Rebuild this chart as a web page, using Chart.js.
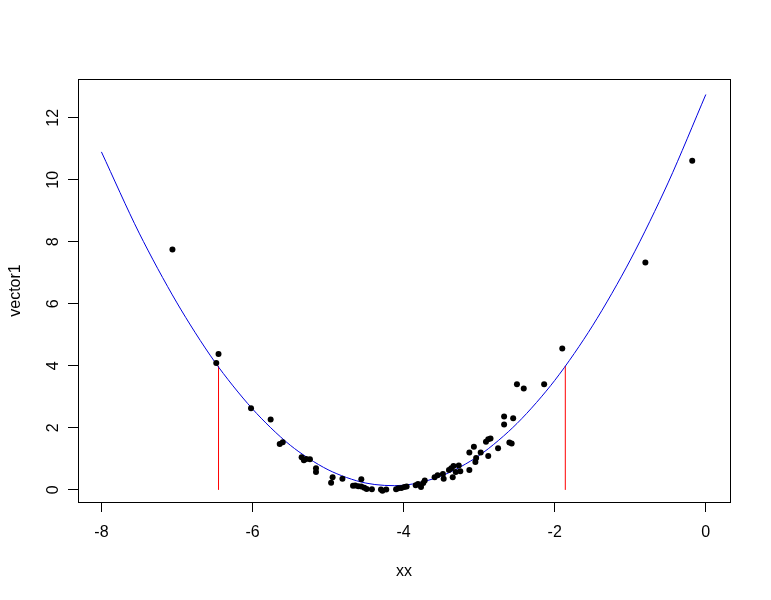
<!DOCTYPE html>
<html>
<head>
<meta charset="utf-8">
<script src="https://cdn.jsdelivr.net/npm/chart.js@4"></script>
<style>
  body { margin: 0; background: #fff; }
</style>
</head>
<body>
<canvas id="chart" width="771" height="600"></canvas>
<script>
// observed points (xx, vector1)
const pointX = [-7.06, -6.45, -6.48, -6.02, -5.76, -5.64, -5.60, -5.35, -5.32, -5.29,
  -5.24, -5.16, -5.16, -4.94, -4.96, -4.81, -4.56, -4.67, -4.64, -4.60,
  -4.56, -4.52, -4.49, -4.42, -4.30, -4.28, -4.23, -4.10, -4.07, -4.03,
  -3.99, -3.96, -3.84, -3.81, -3.77, -3.74, -3.72, -3.59, -3.55, -3.48,
  -3.47, -3.40, -3.37, -3.34, -3.35, -3.31, -3.27, -3.25, -3.13, -3.13,
  -3.07, -3.05, -3.04, -2.98, -2.91, -2.88, -2.85, -2.88, -2.75, -2.67,
  -2.55, -2.67, -2.60, -2.57, -2.50, -2.41, -2.14, -1.90, -0.80, -0.18];
const pointY = [7.75, 4.38, 4.09, 2.63, 2.27, 1.48, 1.54, 1.05, 0.96, 1.00,
  0.99, 0.70, 0.58, 0.41, 0.23, 0.36, 0.34, 0.13, 0.14, 0.12,
  0.11, 0.07, 0.03, 0.02, 0.01, -0.03, 0.01, 0.02, 0.05, 0.06,
  0.09, 0.11, 0.15, 0.19, 0.09, 0.22, 0.30, 0.41, 0.47, 0.51,
  0.36, 0.64, 0.70, 0.77, 0.41, 0.58, 0.79, 0.60, 0.64, 1.21,
  1.39, 0.90, 1.03, 1.21, 1.55, 1.63, 1.66, 1.09, 1.34, 2.37,
  2.31, 2.11, 1.53, 1.50, 3.41, 3.27, 3.41, 4.56, 7.33, 10.61];

// fitted curve
const curveX = [-8, -7.5, -7, -6.5, -6, -5.5, -5, -4.5, -4, -3.5, -3, -2.5, -2, -1.5, -1, -0.5, 0];
const curveY = [10.9, 8.28, 6.03, 4.13, 2.61, 1.44, 0.65, 0.22, 0.15, 0.45, 1.11, 2.14, 3.53, 5.29, 7.41, 9.90, 12.75];

// red vertical markers
const markerX = [-6.45, -1.86];
const markerTop = [4.0, 4.0];

const xTicks = [-8, -6, -4, -2, 0];
const yTicks = [0, 2, 4, 6, 8, 10, 12];

const fontSpec = { family: "'Liberation Sans', Arial, sans-serif", size: 16 };

const datasets = [
  {
    label: 'vector1',
    data: pointX.map((x, i) => ({ x: x, y: pointY[i] })),
    pointRadius: 3,
    pointBackgroundColor: '#000',
    pointBorderWidth: 0,
    showLine: false
  },
  {
    label: 'fit',
    data: curveX.map((x, i) => ({ x: x, y: curveY[i] })),
    showLine: true,
    borderColor: '#0000e0',
    borderWidth: 1,
    pointRadius: 0,
    tension: 0.3
  }
];
markerX.forEach((x, i) => {
  datasets.push({
    label: 'marker' + i,
    data: [{ x: x, y: 0 }, { x: x, y: markerTop[i] }],
    showLine: true,
    borderColor: '#ff0000',
    borderWidth: 1,
    pointRadius: 0
  });
});

// box around the plot region, like R's box()
const boxPlugin = {
  id: 'box',
  afterDraw(chart) {
    const a = chart.chartArea;
    const ctx = chart.ctx;
    ctx.save();
    ctx.strokeStyle = '#000';
    ctx.lineWidth = 1;
    ctx.strokeRect(Math.round(a.left) + 0.5, Math.round(a.top) + 0.5,
      Math.round(a.right - a.left), Math.round(a.bottom - a.top));
    ctx.restore();
  }
};

const ctx = document.getElementById('chart').getContext('2d');
new Chart(ctx, {
  type: 'scatter',
  data: { datasets: datasets },
  options: {
    responsive: false,
    animation: false,
    layout: { padding: { top: 79, right: 41, left: 0, bottom: 0 } },
    plugins: { legend: { display: false }, tooltip: { enabled: false } },
    scales: {
      x: {
        type: 'linear',
        min: -8.31,
        max: 0.32,
        afterBuildTicks: (s) => { s.ticks = xTicks.map(v => ({ value: v })); },
        afterFit: (s) => { s.height = 98; },
        grid: { drawOnChartArea: false, drawTicks: true, tickLength: 10, color: '#000' },
        border: { display: true, color: '#000' },
        ticks: { color: '#000', font: fontSpec, padding: 11, maxRotation: 0 },
        title: { display: true, text: 'xx', color: '#000', font: fontSpec, padding: { top: 0, bottom: 19 } }
      },
      y: {
        type: 'linear',
        min: -0.39,
        max: 13.25,
        afterBuildTicks: (s) => { s.ticks = yTicks.map(v => ({ value: v })); },
        afterFit: (s) => { s.width = 78; },
        grid: { drawOnChartArea: false, drawTicks: true, tickLength: 10, color: '#000' },
        border: { display: true, color: '#000' },
        ticks: { color: '#000', font: fontSpec, padding: 6, minRotation: 90, maxRotation: 90, crossAlign: 'center' },
        title: { display: true, text: 'vector1', color: '#000', font: fontSpec, padding: { top: 6, bottom: 0 } }
      }
    }
  },
  plugins: [boxPlugin]
});
</script>
</body>
</html>
